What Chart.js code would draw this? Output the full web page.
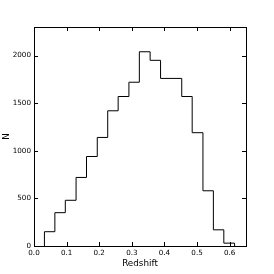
<!DOCTYPE html>
<html>
<head>
<meta charset="utf-8">
<script src="https://cdn.jsdelivr.net/npm/chart.js@4/dist/chart.umd.min.js"></script>
<style>
  html, body { margin: 0; padding: 0; background: #fff; }
  #hist { display: block; }
</style>
</head>
<body>
<canvas id="hist" width="274" height="274"></canvas>
<script>
// histogram bins (redshift) and counts
const binEdges = [0.032, 0.064, 0.096, 0.129, 0.161, 0.194, 0.226, 0.258, 0.291, 0.323,
                  0.356, 0.388, 0.420, 0.453, 0.485, 0.518, 0.550, 0.582, 0.615];
const counts = [150, 350, 480, 720, 940, 1140, 1420, 1570, 1720, 2040,
                1950, 1760, 1760, 1570, 1190, 580, 170, 30];
const xTicks = [0.0, 0.1, 0.2, 0.3, 0.4, 0.5, 0.6];
const yTicks = [0, 500, 1000, 1500, 2000];

// step outline points
const stepPoints = [{ x: binEdges[0], y: 0 }];
counts.forEach((c, i) => stepPoints.push({ x: binEdges[i], y: c }));
stepPoints.push({ x: binEdges[binEdges.length - 1], y: 0 });

const FONT = "'DejaVu Sans', sans-serif";

// frame + inward ticks on all four sides, matplotlib style
const frameTicks = {
  id: 'frameTicks',
  afterDraw(chart) {
    const { ctx, chartArea: a, scales } = chart;
    ctx.save();
    ctx.strokeStyle = '#000';
    ctx.lineWidth = 1;
    ctx.beginPath();
    scales.x.ticks.forEach(t => {
      const px = Math.round(scales.x.getPixelForValue(t.value)) + 0.5;
      ctx.moveTo(px, a.bottom); ctx.lineTo(px, a.bottom - 4);
      ctx.moveTo(px, a.top); ctx.lineTo(px, a.top + 4);
    });
    scales.y.ticks.forEach(t => {
      const py = Math.round(scales.y.getPixelForValue(t.value)) + 0.5;
      ctx.moveTo(a.left, py); ctx.lineTo(a.left + 4, py);
      ctx.moveTo(a.right, py); ctx.lineTo(a.right - 4, py);
    });
    ctx.stroke();
    ctx.strokeRect(Math.round(a.left) + 0.5, Math.round(a.top) + 0.5,
                   Math.round(a.right - a.left), Math.round(a.bottom - a.top));
    ctx.restore();
  }
};

new Chart(document.getElementById('hist').getContext('2d'), {
  type: 'line',
  data: {
    datasets: [{
      data: stepPoints,
      stepped: 'before',
      borderColor: '#000',
      borderWidth: 1,
      pointRadius: 0,
      fill: false
    }]
  },
  options: {
    responsive: false,
    animation: false,
    plugins: { legend: { display: false }, tooltip: { enabled: false } },
    layout: { padding: { top: 27, right: 28, left: 0, bottom: 0 } },
    scales: {
      x: {
        type: 'linear',
        min: 0,
        max: 0.65,
        afterFit(s) { s.height = 28; },
        afterBuildTicks(s) { s.ticks = xTicks.map(v => ({ value: v })); },
        grid: { display: false, drawTicks: false },
        border: { display: false },
        ticks: {
          padding: 3,
          color: '#000',
          font: { family: FONT, size: 7.2 },
          maxRotation: 0,
          callback: v => v.toFixed(1)
        },
        title: {
          display: true,
          text: 'Redshift',
          color: '#000',
          font: { family: FONT, size: 8.8 },
          padding: { top: 0, bottom: 5 }
        }
      },
      y: {
        min: 0,
        max: 2300,
        afterFit(s) { s.width = 34; },
        afterBuildTicks(s) { s.ticks = yTicks.map(v => ({ value: v })); },
        grid: { display: false, drawTicks: false },
        border: { display: false },
        ticks: {
          padding: 3,
          color: '#000',
          font: { family: FONT, size: 7.2 },
          callback: v => String(v)
        },
        title: {
          display: true,
          text: 'N',
          color: '#000',
          font: { family: FONT, size: 8.8 },
          padding: { top: 1, bottom: 0 }
        }
      }
    }
  },
  plugins: [frameTicks]
});
</script>
</body>
</html>
